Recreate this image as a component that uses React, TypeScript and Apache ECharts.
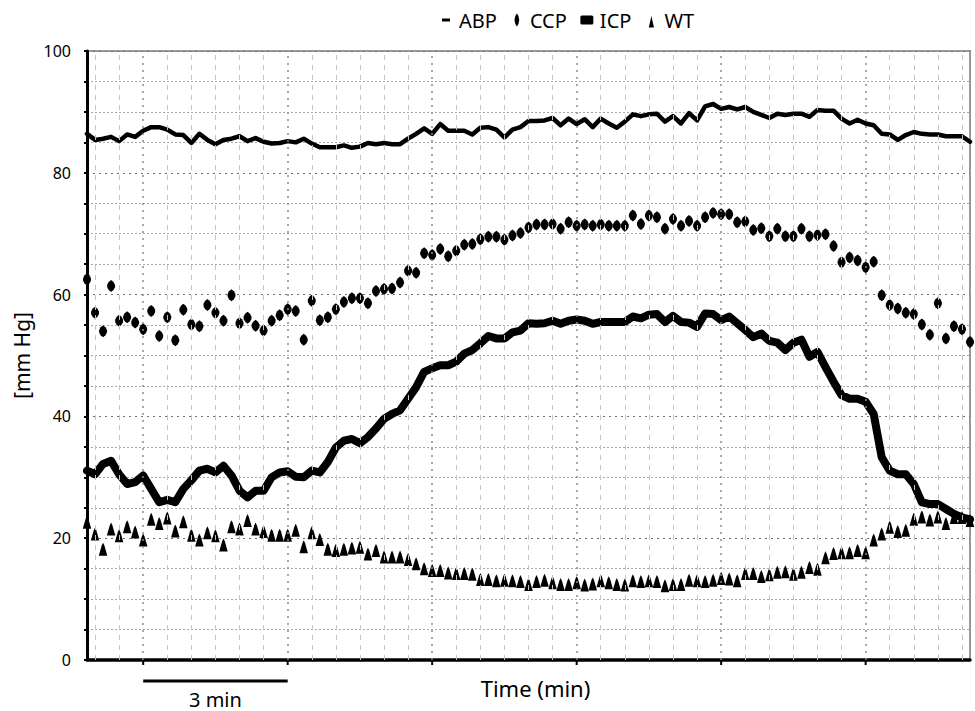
import React, { useEffect, useRef } from "react";
import * as echarts from "echarts";

// Samples every 10 s; x axis in seconds
const SAMPLE_SECONDS = 10;
const TIME_MAX = 1100;
const SERIES_NAMES = ["ABP", "CCP", "ICP", "WT"];
const Y_MIN = 0;
const Y_MAX = 100;
const Y_INTERVAL = 20;
const X_NAME = "Time (min)";
const Y_NAME = "[mm Hg]";
const SCALE_BAR_FROM = 70;
const SCALE_BAR_TO = 250;
const SCALE_BAR_LABEL = "3 min";
const MINOR_GRID_START = 10;
const MINOR_GRID_STEP = 30;
const MAJOR_GRID_START = 70;
const MAJOR_GRID_STEP = 180;

const ABP = [
  86.4, 85.4, 85.6, 85.9, 85.2, 86.3, 85.9, 86.9, 87.5, 87.5,
  87.1, 86.3, 86.2, 84.9, 86.4, 85.4, 84.7, 85.4, 85.6, 86.0,
  85.2, 85.7, 85.1, 84.8, 84.9, 85.2, 85.0, 85.6, 84.8, 84.2,
  84.2, 84.2, 84.5, 84.1, 84.3, 84.9, 84.7, 84.9, 84.7, 84.7,
  85.6, 86.4, 87.3, 86.4, 88.0, 86.9, 86.9, 86.9, 86.3, 87.4,
  87.5, 87.1, 85.8, 87.1, 87.5, 88.5, 88.5, 88.6, 89.0, 87.8,
  88.9, 88.0, 88.8, 87.5, 88.9, 88.1, 87.4, 88.4, 89.6, 89.3,
  89.6, 89.7, 88.4, 89.3, 88.1, 89.8, 88.6, 90.9, 91.3, 90.5,
  90.8, 90.4, 90.8, 90.0, 89.5, 89.0, 89.7, 89.5, 89.7, 89.7,
  89.2, 90.3, 90.2, 90.2, 88.9, 88.1, 88.7, 88.1, 87.8, 86.4,
  86.3, 85.4, 86.2, 86.7, 86.4, 86.3, 86.3, 86.0, 86.0, 86.0,
  85.1,
];

const CCP = [
  62.5, 57.0, 54.0, 61.4, 55.7, 56.3, 55.4, 54.3, 57.3, 53.2,
  56.3, 52.5, 57.5, 55.1, 54.8, 58.3, 57.0, 55.7, 59.9, 55.3,
  56.2, 54.9, 54.1, 55.7, 56.6, 57.6, 57.3, 52.6, 59.0, 55.8,
  56.3, 57.6, 58.8, 59.4, 59.4, 58.6, 60.6, 60.9, 61.0, 62.0,
  63.9, 63.6, 66.8, 66.5, 67.5, 66.3, 67.2, 68.2, 68.3, 69.1,
  69.5, 69.5, 69.0, 69.7, 70.1, 71.0, 71.5, 71.5, 71.6, 70.8,
  71.9, 71.3, 71.5, 71.3, 71.5, 71.3, 71.3, 71.3, 73.0, 71.6,
  73.0, 72.7, 70.8, 72.4, 71.3, 72.1, 71.3, 72.7, 73.4, 73.2,
  73.2, 71.9, 72.0, 70.6, 70.9, 69.6, 70.8, 69.6, 69.6, 70.8,
  69.6, 69.8, 69.9, 68.0, 65.3, 66.1, 65.6, 64.5, 65.4, 59.9,
  58.3, 57.7, 57.0, 56.8, 55.1, 53.4, 58.6, 52.8, 54.8, 54.3,
  52.2,
];

const ICP = [
  31.1, 30.5, 32.2, 32.7, 30.5, 28.9, 29.2, 30.3, 28.1, 25.9,
  26.3, 25.9, 28.1, 29.5, 31.1, 31.4, 30.8, 31.9, 30.3, 27.8,
  26.7, 27.8, 27.8, 30.0, 30.8, 31.0, 30.1, 30.0, 31.1, 30.8,
  32.5, 34.9, 36.0, 36.3, 35.6, 36.6, 38.0, 39.6, 40.4, 41.0,
  42.9, 44.8, 47.3, 47.9, 48.4, 48.4, 49.0, 50.3, 50.9, 52.0,
  53.2, 52.8, 52.8, 53.8, 54.1, 55.3, 55.2, 55.3, 55.7, 55.2,
  55.7, 55.9, 55.7, 55.2, 55.5, 55.5, 55.5, 55.5, 56.4, 56.1,
  56.7, 56.8, 55.5, 56.5, 55.5, 55.4, 54.7, 56.9, 56.8, 55.8,
  56.4, 55.3, 54.2, 53.0, 53.6, 52.4, 52.1, 50.9, 52.1, 52.6,
  49.8, 50.6, 48.1, 45.7, 43.5, 42.9, 42.9, 42.4, 40.4, 33.3,
  31.1, 30.5, 30.5, 28.9, 25.9, 25.6, 25.6, 24.8, 24.0, 23.4,
  23.1,
];

const WT = [
  22.6, 20.7, 18.2, 21.5, 20.4, 21.9, 21.0, 19.7, 23.1, 22.4,
  23.3, 21.2, 22.7, 20.5, 19.7, 20.9, 20.4, 18.9, 21.9, 21.5,
  22.9, 21.5, 21.1, 20.5, 20.5, 20.5, 21.3, 18.6, 20.9, 19.8,
  18.2, 18.0, 18.2, 18.4, 18.5, 17.4, 18.0, 16.9, 16.9, 16.9,
  16.5, 15.8, 15.0, 14.7, 14.7, 14.3, 14.2, 14.2, 14.1, 13.2,
  13.2, 13.0, 13.1, 13.0, 12.9, 12.4, 12.9, 13.1, 12.7, 12.4,
  12.4, 12.7, 12.3, 12.5, 13.0, 12.7, 12.4, 12.3, 13.0, 12.9,
  13.0, 12.9, 12.2, 12.4, 12.4, 13.1, 13.0, 12.9, 13.1, 13.4,
  13.3, 13.0, 14.2, 14.2, 13.7, 14.0, 14.4, 14.5, 14.1, 14.4,
  15.2, 14.9, 16.8, 17.5, 17.6, 17.6, 18.0, 17.6, 19.7, 20.7,
  21.8, 21.1, 21.3, 23.1, 23.5, 23.0, 23.5, 22.4, 23.4, 23.4,
  22.9,
];

const FONT = '"Noto Sans", "Open Sans", sans-serif';

const toPoints = (arr: number[]) => arr.map((v, i) => [i * SAMPLE_SECONDS, v]);

const CORNERS = "M0,0h0.01v0.01h-0.01z M15.99,15.99h0.01v0.01h-0.01z ";
const ICONS: Record<string, string> = {
  ABP: "path://" + CORNERS + "M4,6.5h8v3h-8z",
  CCP: "path://" + CORNERS + "M8,1.5 L9.6,4 L10.4,8 L9.6,12 L8,14.5 L6.4,12 L5.6,8 L6.4,4 Z",
  ICP: "path://" + CORNERS + "M3,3.5 L13,3.5 Q14.5,3.5 14.5,5 L14.5,11 Q14.5,12.5 13,12.5 L3,12.5 Q1.5,12.5 1.5,11 L1.5,5 Q1.5,3.5 3,3.5z",
  WT: "path://" + CORNERS + "M8,4 L10.6,15.5 L5.4,15.5 Z",
};

const CCP_SYMBOL = "path://M4,0 L6.2,2 L7.4,4.5 L7.6,6 L7.4,7.5 L6.2,10 L4,12 L1.8,10 L0.6,7.5 L0.4,6 L0.6,4.5 L1.8,2 Z";
const WT_SYMBOL = "path://M4,0 L5.2,2.5 L8,12 L0,12 L2.8,2.5 Z";

function buildGridLines() {
  const majors: number[] = [];
  for (let t = MAJOR_GRID_START; t < TIME_MAX; t += MAJOR_GRID_STEP) majors.push(t);
  const minors: number[] = [];
  for (let t = MINOR_GRID_START; t < TIME_MAX; t += MINOR_GRID_STEP) {
    if (!majors.includes(t)) minors.push(t);
  }
  const data: any[] = [];
  minors.forEach((t) =>
    data.push({ xAxis: t, lineStyle: { color: "#c4c4c4", width: 1, type: [5, 5] } })
  );
  majors.forEach((t) =>
    data.push({ xAxis: t, lineStyle: { color: "#8a8a8a", width: 1.5, type: [2, 5] } })
  );
  return { majors, data };
}

export default function App() {
  const ref = useRef<HTMLDivElement>(null);

  useEffect(() => {
    if (!ref.current) return;
    const chart = echarts.init(ref.current, null, { renderer: "svg" });
    const { majors, data: gridData } = buildGridLines();

    const option: any = {
      animation: false,
      backgroundColor: "#fff",
      textStyle: { fontFamily: FONT, color: "#000" },
      grid: {
        left: 87,
        right: 5,
        top: 51,
        bottom: 51,
        show: true,
        borderColor: "#999",
        borderWidth: 2,
        backgroundColor: "transparent",
      },
      legend: {
        left: 433,
        top: 5,
        itemWidth: 16,
        itemHeight: 16,
        itemGap: 12,
        selectedMode: false,
        textStyle: { fontFamily: FONT, fontSize: 20, color: "#000" },
        data: SERIES_NAMES.map((n) => ({
          name: n,
          icon: ICONS[n],
          itemStyle: { color: "#000", borderWidth: 0 },
        })),
      },
      xAxis: {
        type: "value",
        min: 0,
        max: TIME_MAX,
        name: X_NAME,
        nameLocation: "middle",
        nameGap: 17,
        nameTextStyle: { fontFamily: FONT, fontSize: 22, color: "#000", padding: [0, 0, 0, 14] },
        axisLine: { show: true, onZero: false, lineStyle: { color: "#000", width: 3.5 } },
        axisTick: { show: false },
        axisLabel: { show: false },
        splitLine: { show: false },
      },
      yAxis: {
        type: "value",
        min: Y_MIN,
        max: Y_MAX,
        interval: Y_INTERVAL,
        name: Y_NAME,
        nameLocation: "middle",
        nameGap: 54,
        nameRotate: 90,
        nameTextStyle: { fontFamily: FONT, fontSize: 21, color: "#000" },
        axisLine: { show: true, lineStyle: { color: "#000", width: 3 } },
        axisTick: { show: true, length: 3, lineStyle: { color: "#000", width: 2 } },
        minorTick: { show: true, splitNumber: 4, length: 3, lineStyle: { color: "#000", width: 2 } },
        axisLabel: { fontFamily: FONT, fontSize: 16, color: "#000", margin: 16 },
        splitLine: { show: true, lineStyle: { color: "#6f6f6f", width: 1, type: [2, 4] } },
        minorSplitLine: { show: true, lineStyle: { color: "#a8a8a8", width: 1, type: [2, 2] } },
      },
      series: [
        {
          name: "grid",
          type: "line",
          data: [],
          silent: true,
          z: 1,
          markLine: {
            silent: true,
            symbol: ["none", "none"],
            label: { show: false },
            animation: false,
            data: gridData,
          },
        },
        {
          name: "ICP",
          type: "line",
          data: toPoints(ICP),
          showSymbol: false,
          z: 3,
          itemStyle: { color: "#000" },
          lineStyle: { color: "#000", width: 8, join: "round", cap: "round" },
        },
        {
          name: "ABP",
          type: "line",
          data: toPoints(ABP),
          showSymbol: false,
          z: 3,
          itemStyle: { color: "#000" },
          lineStyle: { color: "#000", width: 4.5, join: "round", cap: "round" },
        },
        {
          name: "CCP",
          type: "scatter",
          data: toPoints(CCP),
          symbol: CCP_SYMBOL,
          symbolSize: [8, 12],
          z: 4,
          itemStyle: { color: "#000", opacity: 1, borderWidth: 0 },
        },
        {
          name: "WT",
          type: "scatter",
          data: toPoints(WT),
          symbol: WT_SYMBOL,
          symbolSize: [8.5, 13],
          z: 4,
          itemStyle: { color: "#000", opacity: 1, borderWidth: 0 },
        },
      ],
    };

    chart.setOption(option);

    const px = (t: number) => chart.convertToPixel({ xAxisIndex: 0 }, t) as number;
    const py = (v: number) => chart.convertToPixel({ yAxisIndex: 0 }, v) as number;
    const y0 = py(Y_MIN);
    const graphics: any[] = [];
    majors.forEach((t) => {
      graphics.push({
        type: "line",
        silent: true,
        shape: { x1: px(t), y1: y0, x2: px(t), y2: y0 + 5 },
        style: { stroke: "#000", lineWidth: 2 },
      });
    });
    const xa = px(SCALE_BAR_FROM);
    const xb = px(SCALE_BAR_TO);
    graphics.push({
      type: "line",
      silent: true,
      shape: { x1: xa, y1: y0 + 21, x2: xb, y2: y0 + 21 },
      style: { stroke: "#000", lineWidth: 3 },
    });
    graphics.push({
      type: "text",
      silent: true,
      x: (xa + xb) / 2,
      y: y0 + 39,
      style: {
        text: SCALE_BAR_LABEL,
        fill: "#000",
        fontFamily: FONT,
        fontSize: 20,
        align: "center",
        verticalAlign: "middle",
      },
    });
    chart.setOption({ graphic: graphics });

    return () => chart.dispose();
  }, []);

  return (
    <div
      ref={ref}
      style={{ position: "fixed", left: 0, top: 0, width: 975, height: 711, background: "#fff" }}
    />
  );
}
